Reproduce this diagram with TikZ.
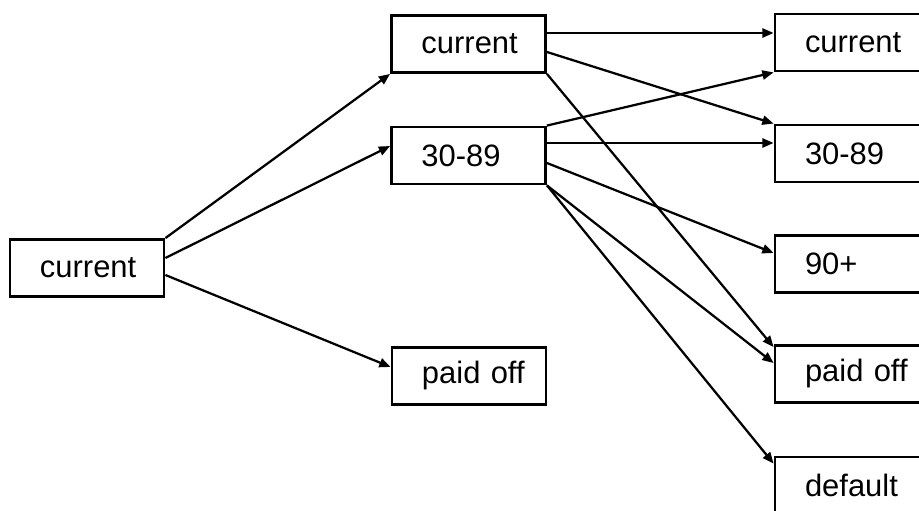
\documentclass[tikz,border=0pt]{standalone}
\usepackage{fontspec}
\setmainfont{Liberation Sans}
\usepackage{tikz}
\usetikzlibrary{arrows.meta,calc}

\begin{document}
\begin{tikzpicture}[
  x=0.025cm, y=-0.025cm,
  >={Triangle[length=8pt,width=6.5pt]},
  font=\fontsize{22}{26}\selectfont,
  state/.style={draw, line width=2pt, rectangle, inner xsep=0pt,
    minimum height=1.425cm, text width=3.85cm, align=left,
    execute at begin node={\hspace*{0.75cm}}},
  arr/.style={->, line width=1.6pt}
]
\clip (0,0) rectangle (919,511);

% months 0, 1 and 2
\node[state] (L)  at (87,268)    {current};
\node[state] (M1) at (468.5,44)  {current};
\node[state] (M2) at (468.5,155.5) {30-89};
\node[state] (M3) at (469,376)   {paid off};
\node[state] (R1) at (852,42.5)  {current};
\node[state] (R2) at (852,153.5) {30-89};
\node[state] (R3) at (852,264)   {90+};
\node[state] (R4) at (852,374)   {paid off};
\node[state] (R5) at (852,485.5) {default};

\draw[arr] (L.north east) -- (M1.south west);
\draw[arr] ($(L.east)+(0,-10)$) -- ($(M2.west)+(0,-9.5)$);
\draw[arr] ($(L.east)+(0,7)$) -- ($(M3.west)+(0,-9)$);

\draw[arr] ($(M1.east)+(0,-11)$) -- ($(R1.west)+(0,-9.5)$);
\draw[arr] ($(M1.east)+(0,8)$) -- (R2.north west);
\draw[arr] (M1.south east) -- ($(R4.north west)+(0,3)$);

\draw[arr] (M2.north east) -- (R1.south west);
\draw[arr] ($(M2.east)+(0,-12.5)$) -- ($(R2.west)+(0,-10.5)$);
\draw[arr] ($(M2.east)+(0,7.5)$) -- ($(R3.west)+(0,-11)$);
\draw[arr] (M2.south east) -- ($(R4.west)+(0,-11)$);
\draw[arr] (M2.south east) -- ($(R5.north west)+(0,8)$);
\end{tikzpicture}
\end{document}
